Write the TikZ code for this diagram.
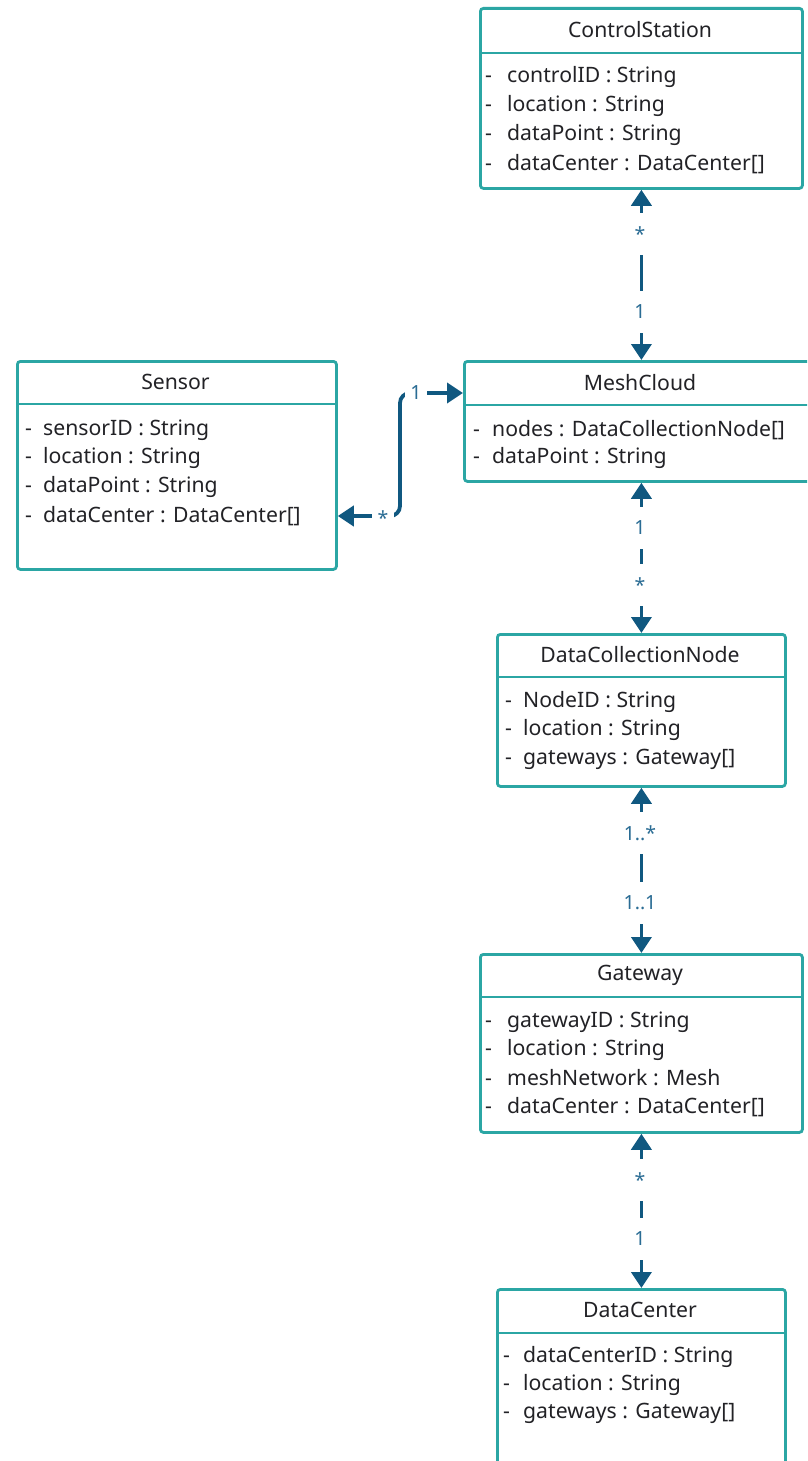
\documentclass[tikz,border=0pt]{standalone}
\usepackage{fontspec}
\setmainfont{Noto Sans}
\usetikzlibrary{arrows.meta}

\definecolor{boxline}{RGB}{43,166,164}
\definecolor{assocblue}{RGB}{16,88,128}
\definecolor{multblue}{RGB}{42,108,148}
\definecolor{bodytext}{RGB}{34,34,38}

\tikzset{
  classbox/.style={draw=boxline, line width=2.8pt, rounded corners=3pt,
    fill=white, anchor=north west, inner sep=0pt},
  sepline/.style={draw=boxline, line width=2.8pt},
  title/.style={text=bodytext, font=\fontsize{21.2}{25}\selectfont, inner sep=0pt},
  attr/.style={text=bodytext, font=\fontsize{21.2}{25}\selectfont, anchor=west, inner sep=0pt},
  assoc/.style={draw=assocblue, line width=3.8pt,
    {Triangle[width=20pt,length=16pt]}-{Triangle[width=20pt,length=16pt]}},
  vmult/.style={text=multblue, fill=white, font=\fontsize{19.5}{22}\selectfont,
    minimum height=42pt, inner xsep=3pt},
  hmult/.style={text=multblue, fill=white, font=\fontsize{19.5}{22}\selectfont,
    minimum width=22pt, inner xsep=0pt, inner ysep=3pt},
}
\newcommand{\bul}[1]{\makebox[#1][l]{-}}

\begin{document}
\begin{tikzpicture}[x=1pt,y=-1pt]
\clip (0,0) rectangle (807,1461);
\fill[white] (0,0) rectangle (807,1461);

% ControlStation
\node[classbox, minimum width=322pt, minimum height=180pt] (cs) at (479,7) {};
\draw[sepline] (479,53) -- (801,53);
\node[title] (csT) at (640,30) {ControlStation};
\node[attr] (cs1) at (485,77)  {\bul{22pt}controlID : String};
\node[attr] (cs2) at (485,106) {\bul{22pt}location : String};
\node[attr] (cs3) at (485,135) {\bul{22pt}dataPoint : String};
\node[attr] (cs4) at (485,164) {\bul{22pt}dataCenter : DataCenter[]};

% Sensor
\node[classbox, minimum width=319pt, minimum height=208pt] (sn) at (16,360) {};
\draw[sepline] (16,404) -- (335,404);
\node[title] (snT) at (175.5,382) {Sensor};
\node[attr] (sn1) at (25,430) {\bul{18pt}sensorID : String};
\node[attr] (sn2) at (25,458) {\bul{18pt}location : String};
\node[attr] (sn3) at (25,487) {\bul{18pt}dataPoint : String};
\node[attr] (sn4) at (25,516) {\bul{18pt}dataCenter : DataCenter[]};

% MeshCloud
\node[classbox, minimum width=360pt, minimum height=120pt] (mc) at (463,360) {};
\draw[sepline] (463,405) -- (823,405);
\node[title] (mcT) at (640,383) {MeshCloud};
\node[attr] (mc1) at (473,430) {\bul{19pt}nodes : DataCollectionNode[]};
\node[attr] (mc2) at (473,458) {\bul{19pt}dataPoint : String};

% DataCollectionNode
\node[classbox, minimum width=288pt, minimum height=152pt] (dn) at (496,633) {};
\draw[sepline] (496,677) -- (784,677);
\node[title] (dnT) at (640,655) {DataCollectionNode};
\node[attr] (dn1) at (505,702) {\bul{18pt}NodeID : String};
\node[attr] (dn2) at (505,730) {\bul{18pt}location : String};
\node[attr] (dn3) at (505,759) {\bul{18pt}gateways : Gateway[]};

% Gateway
\node[classbox, minimum width=322pt, minimum height=178pt] (gw) at (479,953) {};
\draw[sepline] (479,997) -- (801,997);
\node[title] (gwT) at (640,975) {Gateway};
\node[attr] (gw1) at (485,1022) {\bul{22pt}gatewayID : String};
\node[attr] (gw2) at (485,1050) {\bul{22pt}location : String};
\node[attr] (gw3) at (485,1078) {\bul{22pt}meshNetwork : Mesh};
\node[attr] (gw4) at (485,1107) {\bul{22pt}dataCenter : DataCenter[]};

% DataCenter
\node[classbox, minimum width=288pt, minimum height=200pt] (dc) at (496,1288) {};
\draw[sepline] (496,1333) -- (784,1333);
\node[title] (dcT) at (640,1310) {DataCenter};
\node[attr] (dc1) at (503,1357) {\bul{20pt}dataCenterID : String};
\node[attr] (dc2) at (503,1385) {\bul{20pt}location : String};
\node[attr] (dc3) at (503,1413) {\bul{20pt}gateways : Gateway[]};

% Associations with multiplicities
\draw[assoc] (cs.south) -- (cs.south |- mc.north);
\node[vmult] (m1a) at (640,234) {*};
\node[vmult] (m1b) at (640,312) {1};

\draw[assoc] (mc.south -| cs.south) -- (dn.north);
\node[vmult] (m2a) at (640,528) {1};
\node[vmult] (m2b) at (640,585) {*};

\draw[assoc] (dn.south) -- (gw.north);
\node[vmult] (m3a) at (640,833) {1..*};
\node[vmult] (m3b) at (640,903) {1..1};

\draw[assoc] (gw.south) -- (dc.north);
\node[vmult] (m4a) at (640,1180) {*};
\node[vmult] (m4b) at (640,1239) {1};

\coordinate (bendTop) at (400,393);
\draw[assoc, rounded corners=10pt] (mc.west |- bendTop) -- (bendTop) -- (bendTop |- sn4) -- (sn.east |- sn4);
\node[hmult] (m5a) at (416,393) {1};
\node[hmult] (m5b) at (383,518) {*};
\end{tikzpicture}
\end{document}
